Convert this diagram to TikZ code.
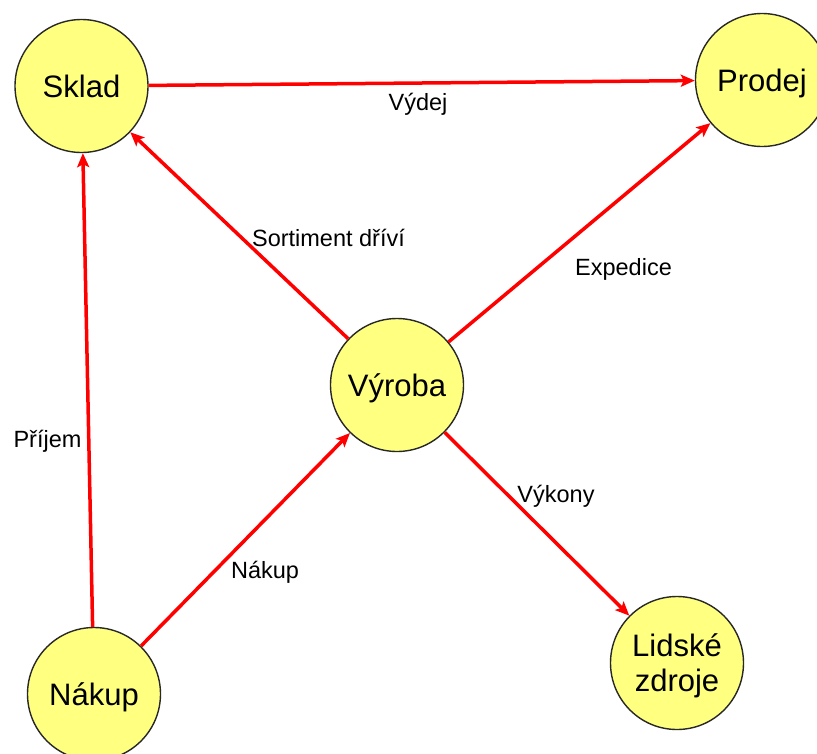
\documentclass[tikz,border=0pt]{standalone}
\usepackage{fontspec}
\setmainfont{Liberation Sans}
\usetikzlibrary{arrows.meta}
\definecolor{nodefill}{RGB}{255,255,128}
\definecolor{nodeline}{RGB}{40,40,40}
\begin{document}
\begin{tikzpicture}[x=1pt,y=-1pt,
  place/.style={circle, draw=nodeline, line width=1.4pt, fill=nodefill,
    minimum size=133pt, inner sep=0pt, text depth=0pt,
    font=\fontsize{31}{35}\selectfont, align=center},
  edge/.style={draw=red, line width=3.5pt,
    -{Stealth[length=14pt,width=12pt,inset=3pt]}},
  lbl/.style={anchor=base, inner sep=0pt, font=\fontsize{23.5}{28}\selectfont}]
\clip (0,0) rectangle (817,753);
\fill[white] (0,0) rectangle (817,753);

\node[place] (sklad) at (81.5,86) {Sklad};
\node[place] (prodej) at (762,80) {Prodej};
\node[place] (vyroba) at (397,385) {Výroba};
\node[place] (nakup) at (94,694) {Nákup};
\node[place] (lidske) at (677,663) {Lidské\\zdroje};

\draw[edge] (sklad) -- (prodej);
\draw[edge] (nakup) -- (sklad);
\draw[edge] (vyroba) -- (sklad);
\draw[edge] (vyroba) -- (prodej);
\draw[edge] (nakup) -- (vyroba);
\draw[edge] (vyroba) -- (lidske);

\node[lbl] (lvydej) at (418,110) {Výdej};
\node[lbl] (lprijem) at (47.5,447) {Příjem};
\node[lbl] (lsort) at (328.5,246) {Sortiment dříví};
\node[lbl] (lexp) at (623.5,275) {Expedice};
\node[lbl] (lnak) at (265,578) {Nákup};
\node[lbl] (lvyk) at (556,502) {Výkony};
\end{tikzpicture}
\end{document}
